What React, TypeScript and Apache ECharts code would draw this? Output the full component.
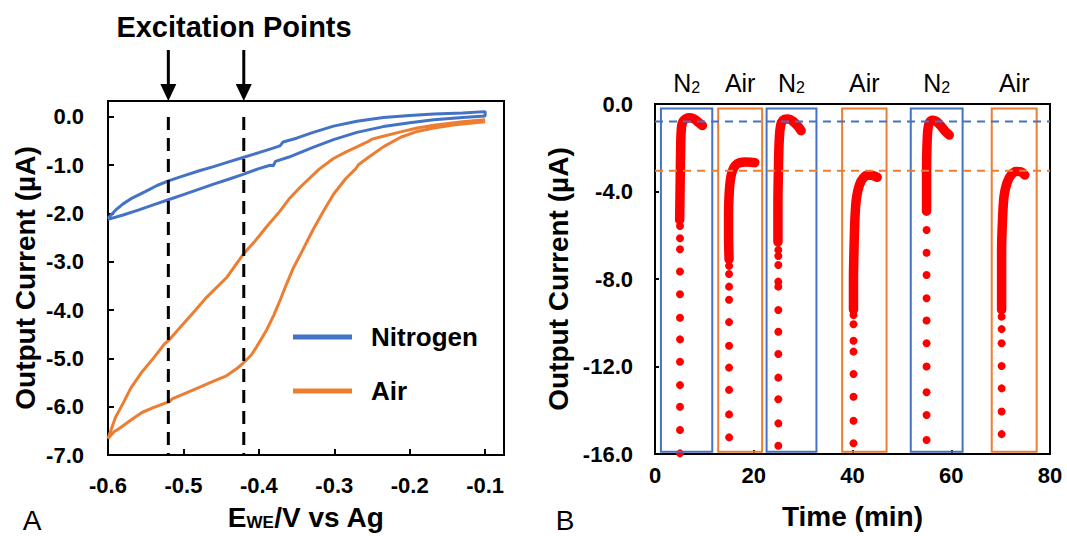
import React, { useEffect, useRef } from 'react';
import * as echarts from 'echarts';

const BLUE = '#4472C4';
const ORANGE = '#ED7D31';
const RED = '#FF0000';
const FONT = '"Liberation Sans", Arial, Helvetica, sans-serif';

// ---------- Panel A : cyclic voltammograms (E in V, I in µA) ----------
const nitrogenCV: [number, number][] = [
  [-0.600, -2.10], [-0.590, -1.93], [-0.580, -1.80], [-0.568, -1.68], [-0.550, -1.54],
  [-0.535, -1.42], [-0.519, -1.32], [-0.500, -1.22], [-0.480, -1.12], [-0.460, -1.03],
  [-0.440, -0.93], [-0.421, -0.84], [-0.400, -0.74], [-0.380, -0.64], [-0.372, -0.60],
  [-0.368, -0.52], [-0.350, -0.44], [-0.330, -0.33], [-0.301, -0.19], [-0.270, -0.09],
  [-0.235, -0.01], [-0.200, 0.03], [-0.168, 0.06], [-0.130, 0.08], [-0.100, 0.11],
  [-0.100, 0.02], [-0.130, -0.01], [-0.168, -0.06], [-0.200, -0.12], [-0.235, -0.20],
  [-0.270, -0.32], [-0.301, -0.47], [-0.330, -0.64], [-0.360, -0.83], [-0.378, -0.92],
  [-0.381, -1.01], [-0.385, -1.00], [-0.400, -1.07], [-0.421, -1.19], [-0.440, -1.29],
  [-0.460, -1.39], [-0.480, -1.50], [-0.500, -1.61], [-0.519, -1.71], [-0.540, -1.82],
  [-0.560, -1.93], [-0.580, -2.03], [-0.600, -2.12],
];

const airCV: [number, number][] = [
  [-0.100, -0.06], [-0.130, -0.10], [-0.168, -0.17], [-0.190, -0.23], [-0.212, -0.31],
  [-0.235, -0.40], [-0.250, -0.46], [-0.254, -0.50], [-0.270, -0.62], [-0.285, -0.73],
  [-0.301, -0.86], [-0.320, -1.08], [-0.345, -1.45], [-0.360, -1.70], [-0.372, -1.95],
  [-0.390, -2.28], [-0.405, -2.57], [-0.421, -2.85], [-0.443, -3.33], [-0.469, -3.73],
  [-0.483, -3.98], [-0.500, -4.28], [-0.519, -4.62], [-0.525, -4.70], [-0.540, -5.00],
  [-0.555, -5.28], [-0.570, -5.62], [-0.579, -5.90], [-0.590, -6.22], [-0.600, -6.66],
  [-0.592, -6.52], [-0.585, -6.45], [-0.570, -6.28], [-0.555, -6.12], [-0.540, -6.02],
  [-0.525, -5.93], [-0.519, -5.90], [-0.515, -5.84], [-0.500, -5.74], [-0.479, -5.60],
  [-0.460, -5.47], [-0.443, -5.36], [-0.430, -5.22], [-0.421, -5.10], [-0.410, -4.93],
  [-0.403, -4.76], [-0.395, -4.55], [-0.389, -4.39], [-0.380, -4.10], [-0.372, -3.80],
  [-0.363, -3.45], [-0.355, -3.15], [-0.345, -2.85], [-0.328, -2.33], [-0.315, -1.97],
  [-0.301, -1.60], [-0.285, -1.28], [-0.272, -1.08], [-0.268, -0.99], [-0.255, -0.84],
  [-0.235, -0.62], [-0.212, -0.42], [-0.190, -0.30], [-0.168, -0.23], [-0.140, -0.16],
  [-0.100, -0.10],
];

const excitationPoints = [-0.52, -0.42];

// ---------- Panel B : current vs time ----------
const gasLabels = ['N2', 'Air', 'N2', 'Air', 'N2', 'Air'];
const gasWindows: [number, number][] = [
  [1.2, 11.6], [12.8, 21.7], [22.6, 32.7], [37.9, 46.9], [51.8, 62.3], [68.2, 77.3],
];
const windowTop = -0.2;
const windowBottom = -15.9;
const n2Baseline = -0.8;
const airBaseline = -3.05;

const sparseTimes = [5.06, 15.0, 24.97, 40.2, 55.0, 70.2];
const sparseCurrents: number[][] = [
  [-15.97, -14.9, -13.84, -12.85, -11.78, -10.76, -9.77, -8.7, -7.66, -6.64, -6.14, -5.58],
  [-15.24, -14.19, -13.07, -12.05, -11.05, -9.97, -8.95, -8.35, -7.77, -7.4],
  [-15.62, -14.6, -13.5, -12.51, -11.43, -10.41, -9.42, -8.35, -8.12, -7.36, -6.95, -6.67],
  [-15.51, -14.48, -13.38, -12.34, -11.32, -10.82, -10.07, -9.65],
  [-15.36, -14.22, -13.18, -12.0, -10.94, -9.9, -8.88, -7.82, -6.8, -5.76],
  [-15.09, -14.06, -13.0, -11.98, -10.94, -10.29, -9.72],
];
const denseTrails: [number, number][][] = [
  [[5.0, -5.3], [5.1, -3.5], [5.2, -2.0], [5.25, -1.5], [5.4, -1.0], [5.7, -0.78], [6.3, -0.66],
   [7.1, -0.63], [7.9, -0.68], [8.7, -0.82], [9.6, -0.98]],
  [[15.0, -7.1], [14.9, -6.0], [14.9, -5.0], [15.0, -4.2], [15.2, -3.6], [15.6, -3.1], [16.3, -2.8],
   [17.2, -2.68], [18.3, -2.65], [19.5, -2.66], [20.2, -2.68]],
  [[24.9, -6.3], [24.9, -4.5], [25.0, -3.0], [25.1, -2.0], [25.3, -1.2], [25.6, -0.85], [26.2, -0.7],
   [27.0, -0.68], [27.9, -0.78], [28.8, -0.98], [29.6, -1.22]],
  [[40.2, -9.4], [40.2, -8.0], [40.3, -6.7], [40.5, -5.2], [40.8, -4.3], [41.4, -3.7], [42.2, -3.38],
   [43.2, -3.25], [44.2, -3.27], [45.0, -3.35]],
  [[55.0, -4.9], [55.0, -3.0], [55.1, -1.8], [55.3, -1.1], [55.6, -0.84], [56.2, -0.74], [57.0, -0.8],
   [57.9, -1.0], [58.8, -1.25], [59.6, -1.42]],
  [[70.2, -9.4], [70.2, -8.0], [70.2, -6.7], [70.4, -5.2], [70.7, -4.2], [71.3, -3.6], [72.1, -3.25],
   [73.1, -3.08], [74.1, -3.1], [74.9, -3.25]],
];

const fmtDecimal = (step: number) => (v: number) => {
  const k = v / step;
  return Math.abs(k - Math.round(k)) < 1e-6 ? v.toFixed(1) : '';
};

export default function App() {
  const ref = useRef<HTMLDivElement>(null);

  useEffect(() => {
    const el = ref.current!;
    const chart = echarts.init(el, null, { renderer: 'svg' });

    const labelStyle = { color: '#000', fontWeight: 'bold', fontSize: 22, fontFamily: FONT };
    const nameStyle = { color: '#000', fontWeight: 'bold', fontSize: 28, fontFamily: FONT };
    const axisLine = { show: true, onZero: false, lineStyle: { color: '#000', width: 2 } };
    const tick = (len: number) => ({ show: true, inside: true, length: len, lineStyle: { color: '#000', width: 2 } });

    const scatterData: [number, number][] = [];
    sparseTimes.forEach((t, i) => sparseCurrents[i].forEach((v) => scatterData.push([t, v])));

    const series: any[] = [
      {
        name: 'Nitrogen', type: 'line', xAxisIndex: 0, yAxisIndex: 0, data: nitrogenCV,
        color: BLUE, symbol: 'none', lineStyle: { width: 3, color: BLUE }, z: 3,
      },
      {
        name: 'Air', type: 'line', xAxisIndex: 0, yAxisIndex: 0, data: airCV,
        color: ORANGE, symbol: 'none', lineStyle: { width: 3, color: ORANGE }, z: 3,
      },
      ...excitationPoints.map((x, i) => ({
        name: 'excitation' + i, type: 'line', xAxisIndex: 0, yAxisIndex: 0,
        data: [[x, 0], [x, -7]], symbol: 'none',
        lineStyle: { width: 3, color: '#000', type: [13, 8] }, z: 4,
      })),
      {
        name: 'current', type: 'scatter', xAxisIndex: 1, yAxisIndex: 1, data: scatterData,
        symbolSize: 8, itemStyle: { color: RED, opacity: 1 }, z: 3,
      },
      ...denseTrails.map((trail, i) => ({
        name: 'trail' + i, type: 'line', xAxisIndex: 1, yAxisIndex: 1, data: trail,
        symbol: 'none', smooth: 0.3,
        lineStyle: { width: 9.5, color: RED, cap: 'round', join: 'round', opacity: 1 }, z: 3,
      })),
      {
        name: 'windows', type: 'custom', xAxisIndex: 1, yAxisIndex: 1,
        data: gasWindows.map((w) => [w[0], w[1], windowBottom, windowTop]),
        encode: { x: [0, 1], y: [2, 3] },
        renderItem: (params: any, api: any) => {
          const p0 = api.coord([api.value(0), api.value(3)]);
          const p1 = api.coord([api.value(1), api.value(2)]);
          const color = gasLabels[params.dataIndex] === 'N2' ? BLUE : ORANGE;
          return {
            type: 'rect',
            shape: { x: p0[0], y: p0[1], width: p1[0] - p0[0], height: p1[1] - p0[1] },
            style: { fill: 'none', stroke: color, lineWidth: 2 },
          };
        },
        z: 4,
      },
      {
        name: 'n2Baseline', type: 'line', xAxisIndex: 1, yAxisIndex: 1,
        data: [[0, n2Baseline], [80, n2Baseline]], symbol: 'none',
        lineStyle: { width: 2, color: BLUE, type: [8, 6] }, z: 5,
      },
      {
        name: 'airBaseline', type: 'line', xAxisIndex: 1, yAxisIndex: 1,
        data: [[0, airBaseline], [80, airBaseline]], symbol: 'none',
        lineStyle: { width: 2, color: ORANGE, type: [8, 6] }, z: 5,
      },
    ];

    const option: any = {
      animation: false,
      backgroundColor: '#fff',
      textStyle: { fontFamily: FONT },
      grid: [
        { left: 108, top: 101, width: 396, height: 354, show: true, borderColor: '#000', borderWidth: 2 },
        { left: 655, top: 104, width: 395, height: 350, show: true, borderColor: '#000', borderWidth: 2 },
      ],
      legend: {
        data: ['Nitrogen', 'Air'], left: 293, top: 322, orient: 'vertical', padding: 0,
        icon: 'rect', itemWidth: 59, itemHeight: 5, itemGap: 24, selectedMode: false,
        textStyle: { color: '#000', fontWeight: 'bold', fontSize: 26, fontFamily: FONT, lineHeight: 30, padding: [0, 0, 0, 14] },
      },
      xAxis: [
        {
          type: 'value', gridIndex: 0, min: -0.6, max: -0.075, interval: 0.1,
          axisLine, axisTick: tick(6), splitLine: { show: false },
          axisLabel: { ...labelStyle, margin: 19, formatter: fmtDecimal(0.1), showMaxLabel: true },
          name: '{a|E}{s|WE}{a|/V vs Ag}', nameLocation: 'middle', nameGap: 44,
          nameTextStyle: {
            ...nameStyle,
            rich: {
              a: { ...nameStyle, lineHeight: 32, verticalAlign: 'bottom' },
              s: { ...nameStyle, fontSize: 17, lineHeight: 17, verticalAlign: 'bottom' },
            },
          },
        },
        {
          type: 'value', gridIndex: 1, min: 0, max: 80, interval: 20,
          axisLine, axisTick: tick(4), splitLine: { show: false },
          axisLabel: { ...labelStyle, margin: 10, formatter: (v: number) => String(Math.round(v)) },
          name: 'Time (min)', nameLocation: 'middle', nameGap: 48, nameTextStyle: nameStyle,
        },
      ],
      yAxis: [
        {
          type: 'value', gridIndex: 0, min: -7, max: 0.33, interval: 1,
          axisLine, axisTick: tick(6), splitLine: { show: false },
          axisLabel: { ...labelStyle, margin: 24, formatter: fmtDecimal(1) },
          name: 'Output Current (µA)', nameLocation: 'middle', nameGap: 69, nameTextStyle: nameStyle,
        },
        {
          type: 'value', gridIndex: 1, min: -16, max: 0, interval: 4,
          axisLine, axisTick: tick(4), splitLine: { show: false },
          axisLabel: { ...labelStyle, margin: 22, formatter: (v: number) => v.toFixed(1) },
          name: 'Output Current (µA)', nameLocation: 'middle', nameGap: 83, nameTextStyle: nameStyle,
        },
      ],
      series,
    };

    chart.setOption(option);

    const graphics: any[] = [
      {
        type: 'text', x: 234, y: 27,
        style: { text: 'Excitation Points', font: `bold 29px ${FONT}`, fill: '#000', align: 'center', verticalAlign: 'middle' },
      },
      {
        type: 'text', x: 32, y: 520,
        style: { text: 'A', font: `28px ${FONT}`, fill: '#000', align: 'center', verticalAlign: 'middle' },
      },
      {
        type: 'text', x: 565, y: 520,
        style: { text: 'B', font: `28px ${FONT}`, fill: '#000', align: 'center', verticalAlign: 'middle' },
      },
    ];

    excitationPoints.forEach((x) => {
      const p = chart.convertToPixel({ gridIndex: 0 } as any, [x, 0]) as number[];
      const px = p[0];
      graphics.push({ type: 'line', shape: { x1: px, y1: 50, x2: px, y2: 88 }, style: { stroke: '#000', lineWidth: 3 } });
      graphics.push({
        type: 'polygon',
        shape: { points: [[px - 8, 84], [px + 8, 84], [px, 101]] },
        style: { fill: '#000' },
      });
    });

    gasWindows.forEach((w, i) => {
      const p = chart.convertToPixel({ gridIndex: 1 } as any, [(w[0] + w[1]) / 2, 0]) as number[];
      const isN2 = gasLabels[i] === 'N2';
      graphics.push({
        type: 'text', x: p[0], y: 80,
        style: {
          text: isN2 ? '{m|N}{s|2}' : '{m|Air}',
          align: 'center', verticalAlign: 'middle',
          rich: {
            m: { fontSize: 25, fontFamily: FONT, fill: '#000', lineHeight: 30, verticalAlign: 'bottom' },
            s: { fontSize: 16, fontFamily: FONT, fill: '#000', lineHeight: 16, verticalAlign: 'bottom' },
          },
        },
      });
    });

    chart.setOption({ graphic: graphics });

    return () => chart.dispose();
  }, []);

  return (
    <div
      ref={ref}
      style={{ position: 'fixed', left: 0, top: 0, width: 1067, height: 536, background: '#fff' }}
    />
  );
}
